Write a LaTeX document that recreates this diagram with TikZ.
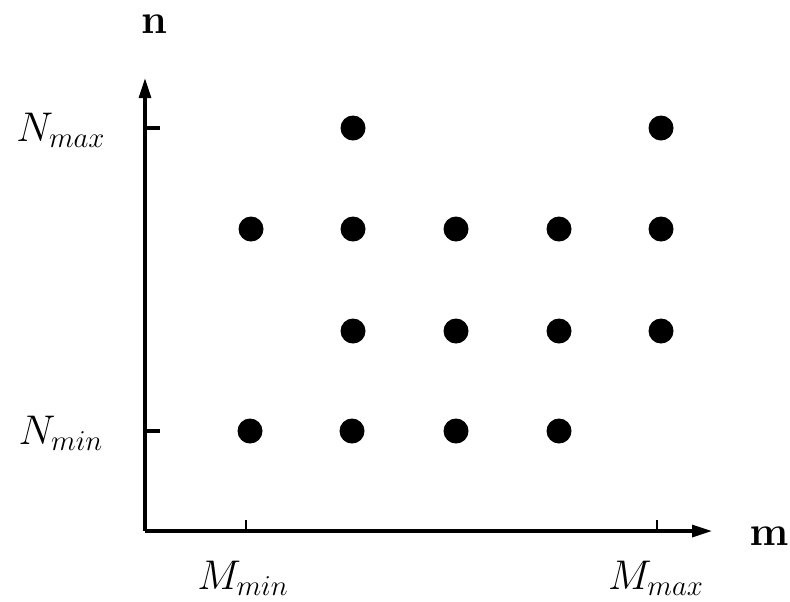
\documentclass[tikz,border=0pt]{standalone}
\usetikzlibrary{arrows.meta}
\begin{document}
\begin{tikzpicture}[x=0.5pt,y=-0.5pt,
  dot/.style={circle,fill=black,inner sep=0pt,minimum size=12.5pt},
  lab/.style={inner sep=0pt,font=\fontsize{21.5}{25}\selectfont},
  axis/.style={line width=1.6pt,-{Triangle[length=10pt,width=6pt]}},
  tick/.style={line width=1.6pt}]
\useasboundingbox (0,0) rectangle (790,601);
\coordinate (O) at (145,531);
\coordinate (ytop) at (145,78);
\coordinate (xend) at (712,531);
\draw[axis] (O) -- (ytop);
\draw[axis] (O) -- (xend);
% ticks
\coordinate (tn1) at (145,128); \coordinate (tn1e) at (160,128);
\coordinate (tn2) at (145,431); \coordinate (tn2e) at (160,431);
\coordinate (tm1) at (246,531); \coordinate (tm1e) at (246,520);
\coordinate (tm2) at (657,531); \coordinate (tm2e) at (657,520);
\draw[tick] (tn1) -- (tn1e);
\draw[tick] (tn2) -- (tn2e);
\draw[line width=0.9pt] (tm1) -- (tm1e);
\draw[line width=0.9pt] (tm2) -- (tm2e);
% labels
\node[lab] (ln) at (154,24) {$\mathbf{n}$};
\node[lab,anchor=east] (lm) at (789,536) {$\mathbf{m}$};
\node[lab] (lnmax) at (61,130) {$N_{max}$};
\node[lab] (lnmin) at (61,433) {$N_{min}$};
\node[lab] (lmmin) at (243,578) {$M_{min}$};
\node[lab] (lmmax) at (656,578) {$M_{max}$};
% dots
\node[dot] (a2) at (353,128) {};
\node[dot] (a5) at (661,128) {};
\node[dot] (b1) at (251,229) {};
\node[dot] (b2) at (353,229) {};
\node[dot] (b3) at (456,229) {};
\node[dot] (b4) at (559,229) {};
\node[dot] (b5) at (661,229) {};
\node[dot] (c2) at (353,331) {};
\node[dot] (c3) at (456,331) {};
\node[dot] (c4) at (559,331) {};
\node[dot] (c5) at (661,331) {};
\node[dot] (d1) at (250,431) {};
\node[dot] (d2) at (352,431) {};
\node[dot] (d3) at (456,431) {};
\node[dot] (d4) at (559,431) {};
\end{tikzpicture}
\end{document}
